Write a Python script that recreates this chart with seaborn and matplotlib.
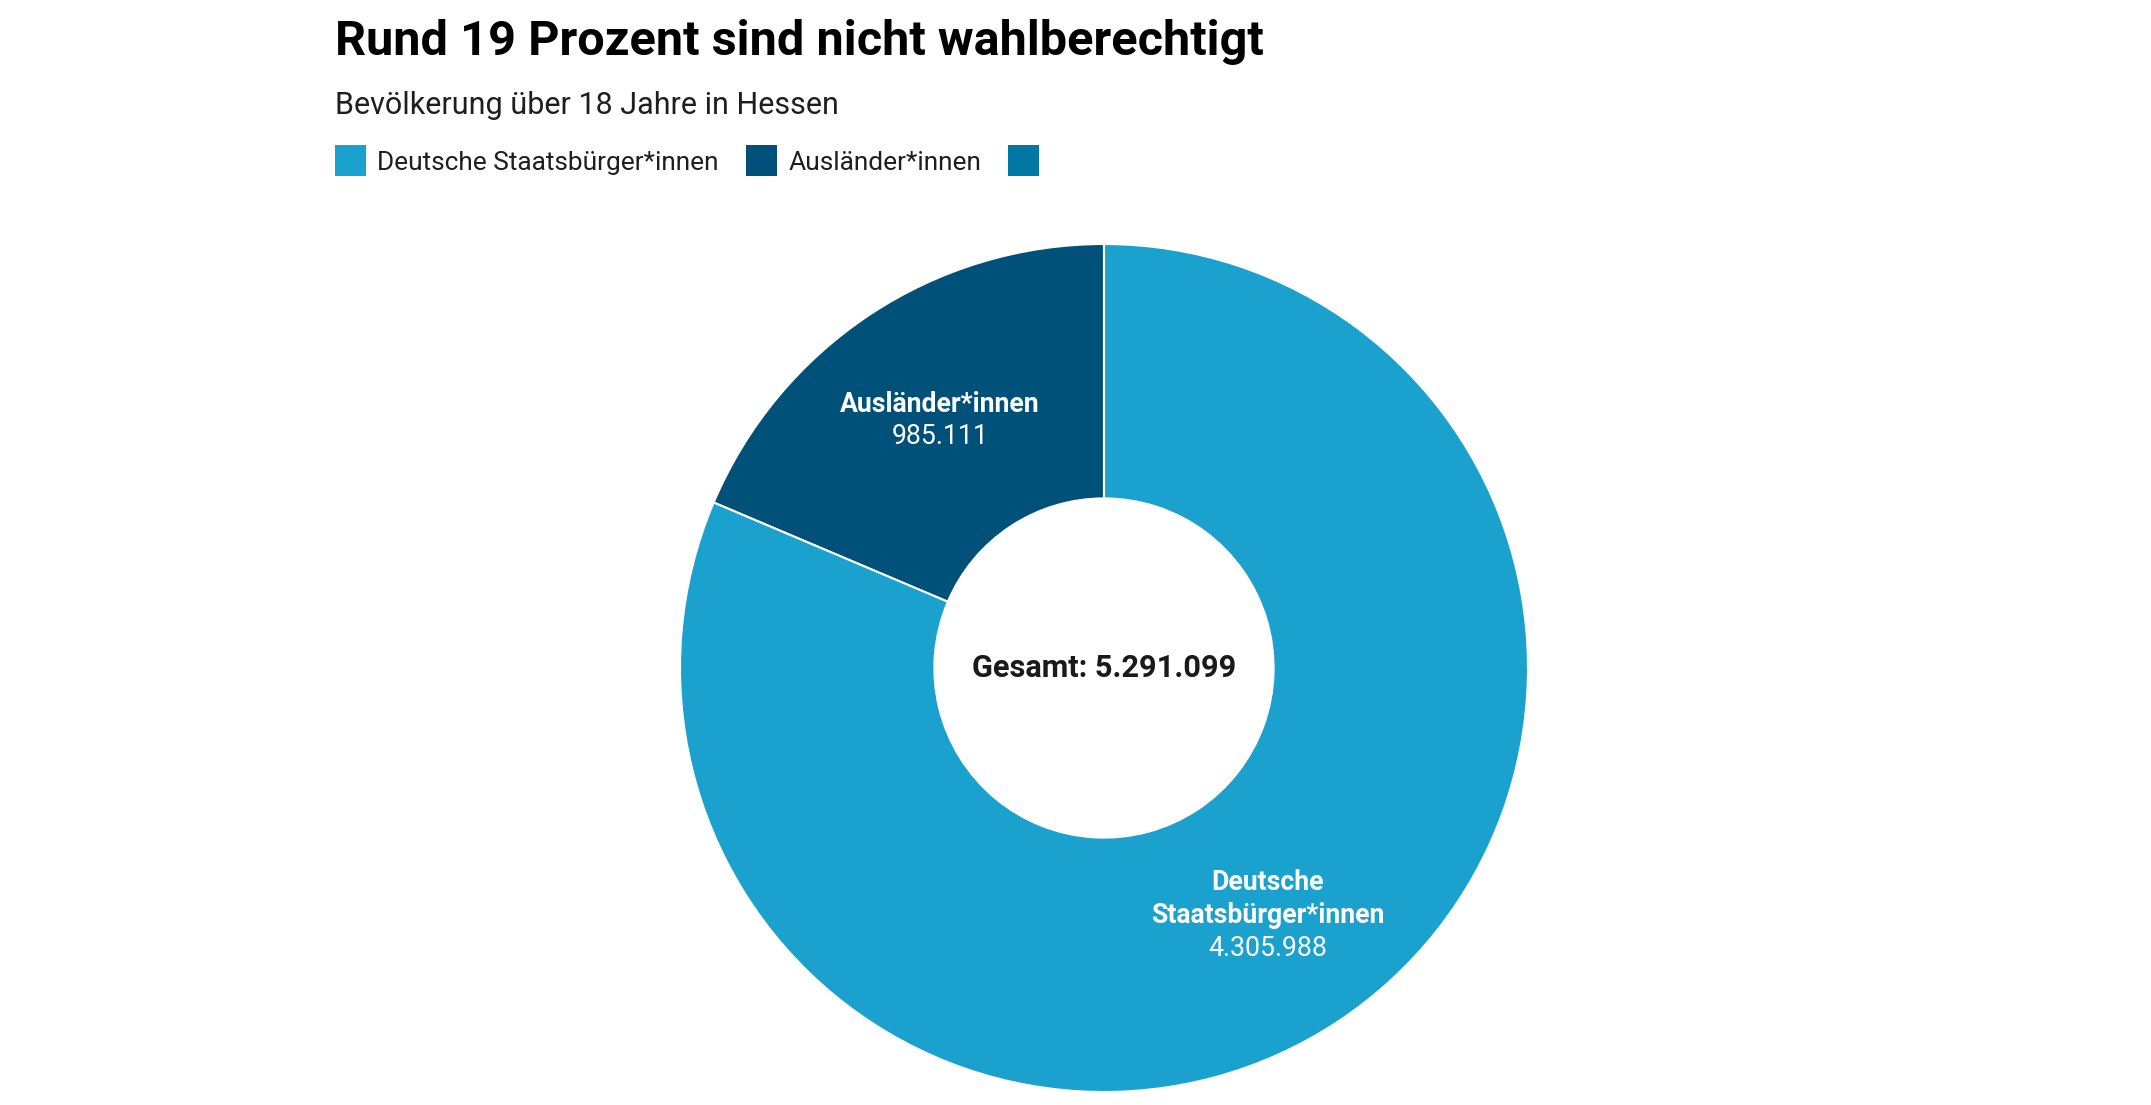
import matplotlib
matplotlib.use("Agg")
import matplotlib.pyplot as plt
import seaborn as sns
import numpy as np
from matplotlib.patches import Rectangle

# ---- data ----
categories = ["Ausländer*innen", "Deutsche Staatsbürger*innen"]
values = [985111, 4305988]
value_labels = ["985.111", "4.305.988"]
slice_titles = [["Ausländer*innen"], ["Deutsche", "Staatsbürger*innen"]]
legend_labels = ["Deutsche Staatsbürger*innen", "Ausländer*innen", ""]
legend_colors = ["#1aa1ce", "#00517a", "#0078a3"]
slice_colors = ["#00517a", "#1aa1ce"]
total_label = "Gesamt: 5.291.099"
title = "Rund 19 Prozent sind nicht wahlberechtigt"
subtitle = "Bevölkerung über 18 Jahre in Hessen"

sns.set_theme(style="white")
plt.rcParams["font.family"] = ["Roboto", "DejaVu Sans"]

W, H = 2151, 1105
fig = plt.figure(figsize=(W / 100, H / 100), dpi=100)
fig.patch.set_facecolor("white")

def fx(px):
    return px / W

def fy(py):
    return 1 - py / H

# titles
fig.text(fx(335), fy(55), title, fontsize=35, fontweight="bold", color="#000000",
         ha="left", va="baseline")
fig.text(fx(335), fy(114), subtitle, fontsize=22, color="#1e1e1e",
         ha="left", va="baseline")

# legend
sq_x = [335, 746, 1008]
txt_x = [377, 789, 1050]
for lx, tx, lab, col in zip(sq_x, txt_x, legend_labels, legend_colors):
    fig.patches.append(Rectangle((fx(lx), fy(176)), fx(31), 31 / H, transform=fig.transFigure,
                                 facecolor=col, edgecolor="none"))
    if lab:
        fig.text(fx(tx), fy(170), lab, fontsize=18.9, color="#1e1e1e", ha="left", va="baseline")

# donut
cx, cy, R = 1104, 668, 424
ax = fig.add_axes([(cx - R) / W, (H - cy - R) / H, 2 * R / W, 2 * R / H])
inner = 0.40
wedges, _ = ax.pie(values, colors=slice_colors, startangle=90, counterclock=True,
                   radius=1, wedgeprops=dict(width=1 - inner, edgecolor="white", linewidth=1.5))
ax.set_xlim(-1, 1)
ax.set_ylim(-1, 1)
ax.set_aspect("equal")
ax.axis("off")

label_r = 0.70
lh = 0.0775
for w, tl, v in zip(wedges, slice_titles, value_labels):
    ang = np.deg2rad((w.theta1 + w.theta2) / 2)
    x, y = label_r * np.cos(ang), label_r * np.sin(ang)
    lines = [(s, "bold") for s in tl] + [(v, "normal")]
    n = len(lines)
    top = y + lh * (n - 1) / 2
    for i, (s, wt) in enumerate(lines):
        ax.text(x, top - i * lh, s, fontsize=19.2, fontweight=wt, color="white",
                ha="center", va="center")

ax.text(0, 0, total_label, fontsize=22.15, fontweight="bold", color="#1a1a1a",
        ha="center", va="center")

fig.savefig("out.png", dpi=100, facecolor="white")
